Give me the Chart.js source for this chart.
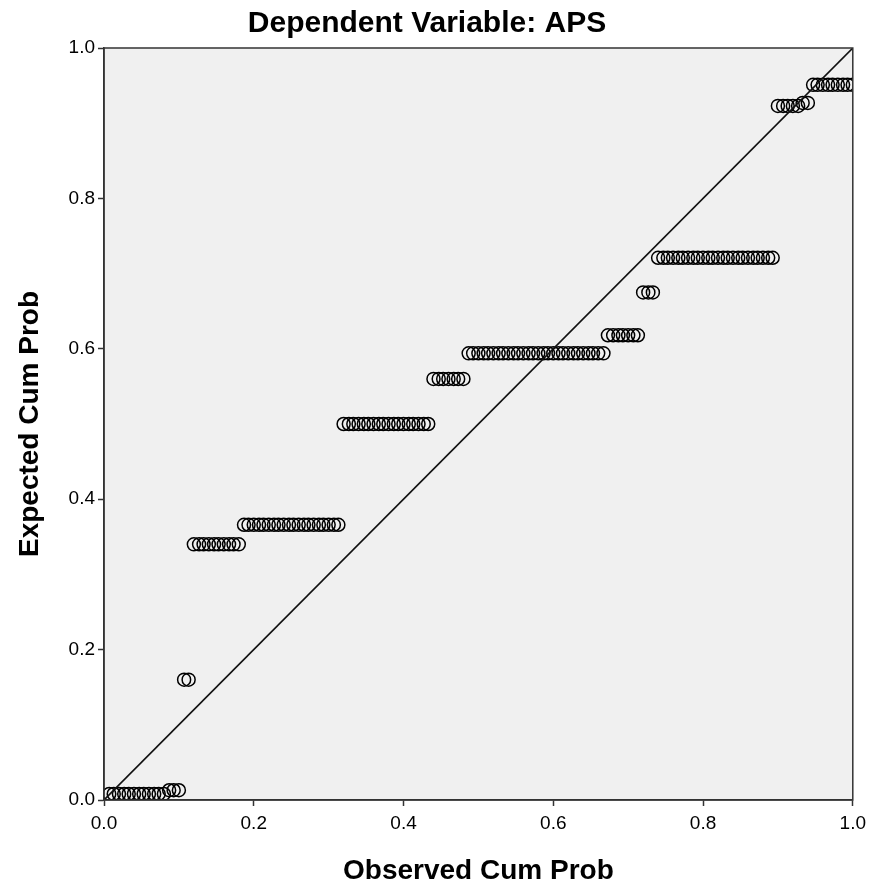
<!DOCTYPE html>
<html lang="en">
<head>
  <meta charset="UTF-8">
  <title>P-P Plot APS</title>
  <script src="https://cdn.jsdelivr.net/npm/chart.js"></script>
  <style>
    body { margin: 0; background: #fff; }
    #ppChart { display: block; }
  </style>
</head>
<body>
  <canvas id="ppChart" width="872" height="888"></canvas>

  <script>
    // observed cum prob per tied group (one entry per case)
    const observedGroups = [
      [0.007, 0.013, 0.020, 0.027, 0.033, 0.040, 0.047, 0.053, 0.060, 0.067, 0.073, 0.080],
      [0.087, 0.093, 0.100],
      [0.107, 0.113],
      [0.120, 0.127, 0.133, 0.140, 0.147, 0.153, 0.160, 0.167, 0.173, 0.180],
      [0.187, 0.193, 0.200, 0.207, 0.213, 0.220, 0.227, 0.233, 0.240, 0.247,
       0.253, 0.260, 0.267, 0.273, 0.280, 0.287, 0.293, 0.300, 0.307, 0.313],
      [0.320, 0.327, 0.333, 0.340, 0.347, 0.353, 0.360, 0.367, 0.373, 0.380,
       0.387, 0.393, 0.400, 0.407, 0.413, 0.420, 0.427, 0.433],
      [0.440, 0.447, 0.453, 0.460, 0.467, 0.473, 0.480],
      [0.487, 0.493, 0.500, 0.507, 0.513, 0.520, 0.527, 0.533, 0.540, 0.547,
       0.553, 0.560, 0.567, 0.573, 0.580, 0.587, 0.593, 0.600, 0.607, 0.613,
       0.620, 0.627, 0.633, 0.640, 0.647, 0.653, 0.660, 0.667],
      [0.673, 0.680, 0.687, 0.693, 0.700, 0.707, 0.713],
      [0.720, 0.727, 0.733],
      [0.740, 0.747, 0.753, 0.760, 0.767, 0.773, 0.780, 0.787, 0.793, 0.800,
       0.807, 0.813, 0.820, 0.827, 0.833, 0.840, 0.847, 0.853, 0.860, 0.867,
       0.873, 0.880, 0.887, 0.893],
      [0.900, 0.907, 0.913, 0.920, 0.927],
      [0.933, 0.940],
      [0.947, 0.953, 0.960, 0.967, 0.973, 0.980, 0.987, 0.993, 1.000]
    ];
    // expected cum prob, one per group
    const expectedGroups = [0.008, 0.013, 0.160, 0.340, 0.366, 0.500, 0.560,
                            0.594, 0.618, 0.675, 0.721, 0.923, 0.927, 0.951];
    const refLine = [0, 1];
    const tickValues = [0, 0.2, 0.4, 0.6, 0.8, 1.0];

    const points = [];
    observedGroups.forEach((xs, g) => {
      xs.forEach(x => points.push({ x: x, y: expectedGroups[g] }));
    });

    Chart.defaults.font.family = 'Arial, "Liberation Sans", sans-serif';
    Chart.defaults.color = '#000';

    const plotFrame = {
      id: 'plotFrame',
      beforeDraw(chart) {
        const { ctx, chartArea: a } = chart;
        ctx.save();
        ctx.fillStyle = '#f0f0f0';
        ctx.fillRect(a.left, a.top, a.right - a.left, a.bottom - a.top);
        ctx.restore();
      },
      afterDraw(chart) {
        const { ctx, chartArea: a } = chart;
        ctx.save();
        ctx.strokeStyle = '#333';
        ctx.lineWidth = 1.5;
        ctx.strokeRect(a.left, a.top, a.right - a.left, a.bottom - a.top);
        ctx.restore();
      }
    };

    const axisTick = {
      display: true,
      drawOnChartArea: false,
      drawTicks: true,
      tickLength: 6,
      tickWidth: 1.5,
      tickColor: '#333'
    };

    new Chart(document.getElementById('ppChart').getContext('2d'), {
      type: 'scatter',
      data: {
        datasets: [
          {
            label: 'Observed',
            data: points,
            pointStyle: 'circle',
            pointRadius: 6.5,
            pointBorderWidth: 1.5,
            borderColor: '#000',
            backgroundColor: 'rgba(0,0,0,0)',
            order: 2
          },
          {
            label: 'Reference',
            data: refLine.map(v => ({ x: v, y: v })),
            showLine: true,
            pointRadius: 0,
            borderColor: '#111',
            borderWidth: 1.6,
            order: 1
          }
        ]
      },
      options: {
        responsive: false,
        animation: false,
        layout: { padding: { left: 0, right: 18, top: 0, bottom: 0 } },
        plugins: {
          legend: { display: false },
          tooltip: { enabled: false },
          title: {
            display: true,
            text: 'Dependent Variable: APS',
            font: { size: 30, weight: 'bold' },
            color: '#000',
            padding: { top: 6, bottom: 6 }
          }
        },
        scales: {
          x: {
            type: 'linear',
            min: 0,
            max: 1,
            afterBuildTicks: s => { s.ticks = tickValues.map(v => ({ value: v })); },
            afterFit: s => { s.height = 88; },
            ticks: {
              font: { size: 19 },
              color: '#000',
              padding: 6,
              maxRotation: 0,
              callback: v => Number(v).toFixed(1)
            },
            grid: axisTick,
            border: { display: true, color: '#333', width: 1.5 },
            title: {
              display: true,
              text: 'Observed Cum Prob',
              font: { size: 28, weight: 'bold' },
              color: '#000',
              padding: { top: 0, bottom: 0 }
            }
          },
          y: {
            type: 'linear',
            min: 0,
            max: 1,
            afterBuildTicks: s => { s.ticks = tickValues.map(v => ({ value: v })); },
            afterFit: s => { s.width = 104; },
            ticks: {
              font: { size: 19 },
              color: '#000',
              padding: 3,
              callback: v => Number(v).toFixed(1)
            },
            grid: axisTick,
            border: { display: true, color: '#333', width: 1.5 },
            title: {
              display: true,
              text: 'Expected Cum Prob',
              font: { size: 28, weight: 'bold' },
              color: '#000',
              padding: { top: 13, bottom: 0 }
            }
          }
        }
      },
      plugins: [plotFrame]
    });
  </script>
</body>
</html>
